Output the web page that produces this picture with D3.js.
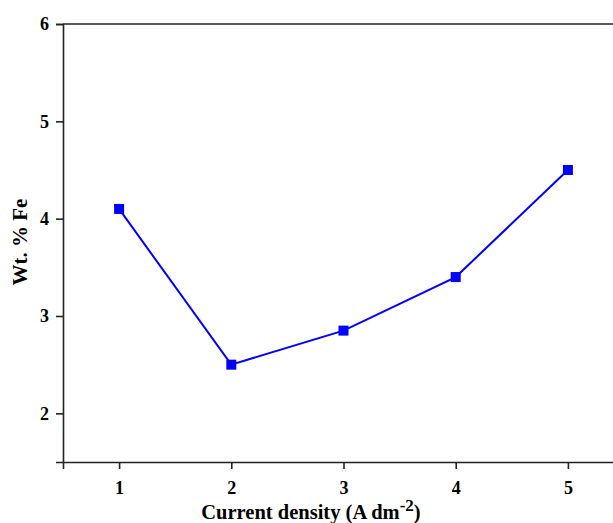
<!DOCTYPE html>
<html>
<head>
  <meta charset="utf-8">
  <script src="https://d3js.org/d3.v7.min.js"></script>
  <style>
    body { margin: 0; background: #fff; }
    text { font-family: "Liberation Serif", "Times New Roman", serif; font-weight: bold; }
  </style>
</head>
<body>
  <script>
  // data
  var currentDensity = [1, 2, 3, 4, 5];
  var wtFe = [4.1, 2.5, 2.85, 3.4, 4.5];
  var xTicks = [1, 2, 3, 4, 5];
  var yTicks = [2, 3, 4, 5, 6];

  var width = 613, height = 523;
  var padLeft = 63, padTop = 24, plotW = 561, plotBottom = 462;

  var svg = d3.select("body").append("svg")
    .attr("width", width).attr("height", height);

  var x = d3.scaleLinear().domain([0.5, 5.5]).range([padLeft, padLeft + plotW]);
  var y = d3.scaleLinear().domain([1.5, 6]).range([plotBottom, padTop]);

  // frame top line
  svg.append("line")
    .attr("x1", padLeft).attr("x2", width)
    .attr("y1", y(6)).attr("y2", y(6))
    .attr("stroke", "#222").attr("stroke-width", 1.6);

  // x axis (major + minor)
  var xAxis = svg.append("g").attr("transform", "translate(0," + plotBottom + ")");
  xAxis.call(d3.axisBottom(x).tickValues(d3.range(1.5, 5.5, 1)).tickSize(4).tickFormat(""));
  xAxis.call(d3.axisBottom(x).tickValues(xTicks).tickSize(7).tickPadding(12).tickFormat(d3.format("d")));

  var yAxis = svg.append("g").attr("transform", "translate(" + padLeft + ",0)");
  yAxis.call(d3.axisLeft(y).tickValues([2.5, 3.5, 4.5, 5.5]).tickSize(4).tickFormat(""));
  yAxis.call(d3.axisLeft(y).tickValues(yTicks).tickSize(7).tickPadding(7).tickFormat(d3.format("d")));

  svg.selectAll(".domain").attr("stroke", "#222").attr("stroke-width", 1.6);
  svg.selectAll(".tick line").attr("stroke", "#222").attr("stroke-width", 1.6);
  svg.selectAll(".tick text")
    .attr("font-size", 18).attr("fill", "#000")
    .attr("font-family", "Liberation Serif").attr("font-weight", "bold");

  // line + markers
  var pts = currentDensity.map(function(d, i) { return [d, wtFe[i]]; });
  var line = d3.line().x(function(d) { return x(d[0]); }).y(function(d) { return y(d[1]); });

  svg.append("path")
    .datum(pts)
    .attr("d", line)
    .attr("fill", "none")
    .attr("stroke", "#0000ff")
    .attr("stroke-width", 2);

  svg.selectAll("rect.pt")
    .data(pts)
    .enter().append("rect")
    .attr("class", "pt")
    .attr("x", function(d) { return x(d[0]) - 5; })
    .attr("y", function(d) { return y(d[1]) - 5; })
    .attr("width", 10).attr("height", 10)
    .attr("fill", "#0000ff");

  // axis titles
  svg.append("text")
    .attr("transform", "translate(27,242) rotate(-90)")
    .attr("text-anchor", "middle")
    .attr("font-size", 21)
    .text("Wt. % Fe");

  var xl = svg.append("text")
    .attr("x", 311).attr("y", 519)
    .attr("text-anchor", "middle")
    .attr("font-size", 20.5);
  xl.append("tspan").text("Current density (A dm");
  xl.append("tspan").attr("dy", -8).attr("font-size", 17).text("-2");
  xl.append("tspan").attr("dy", 8).text(")");
  </script>
</body>
</html>
